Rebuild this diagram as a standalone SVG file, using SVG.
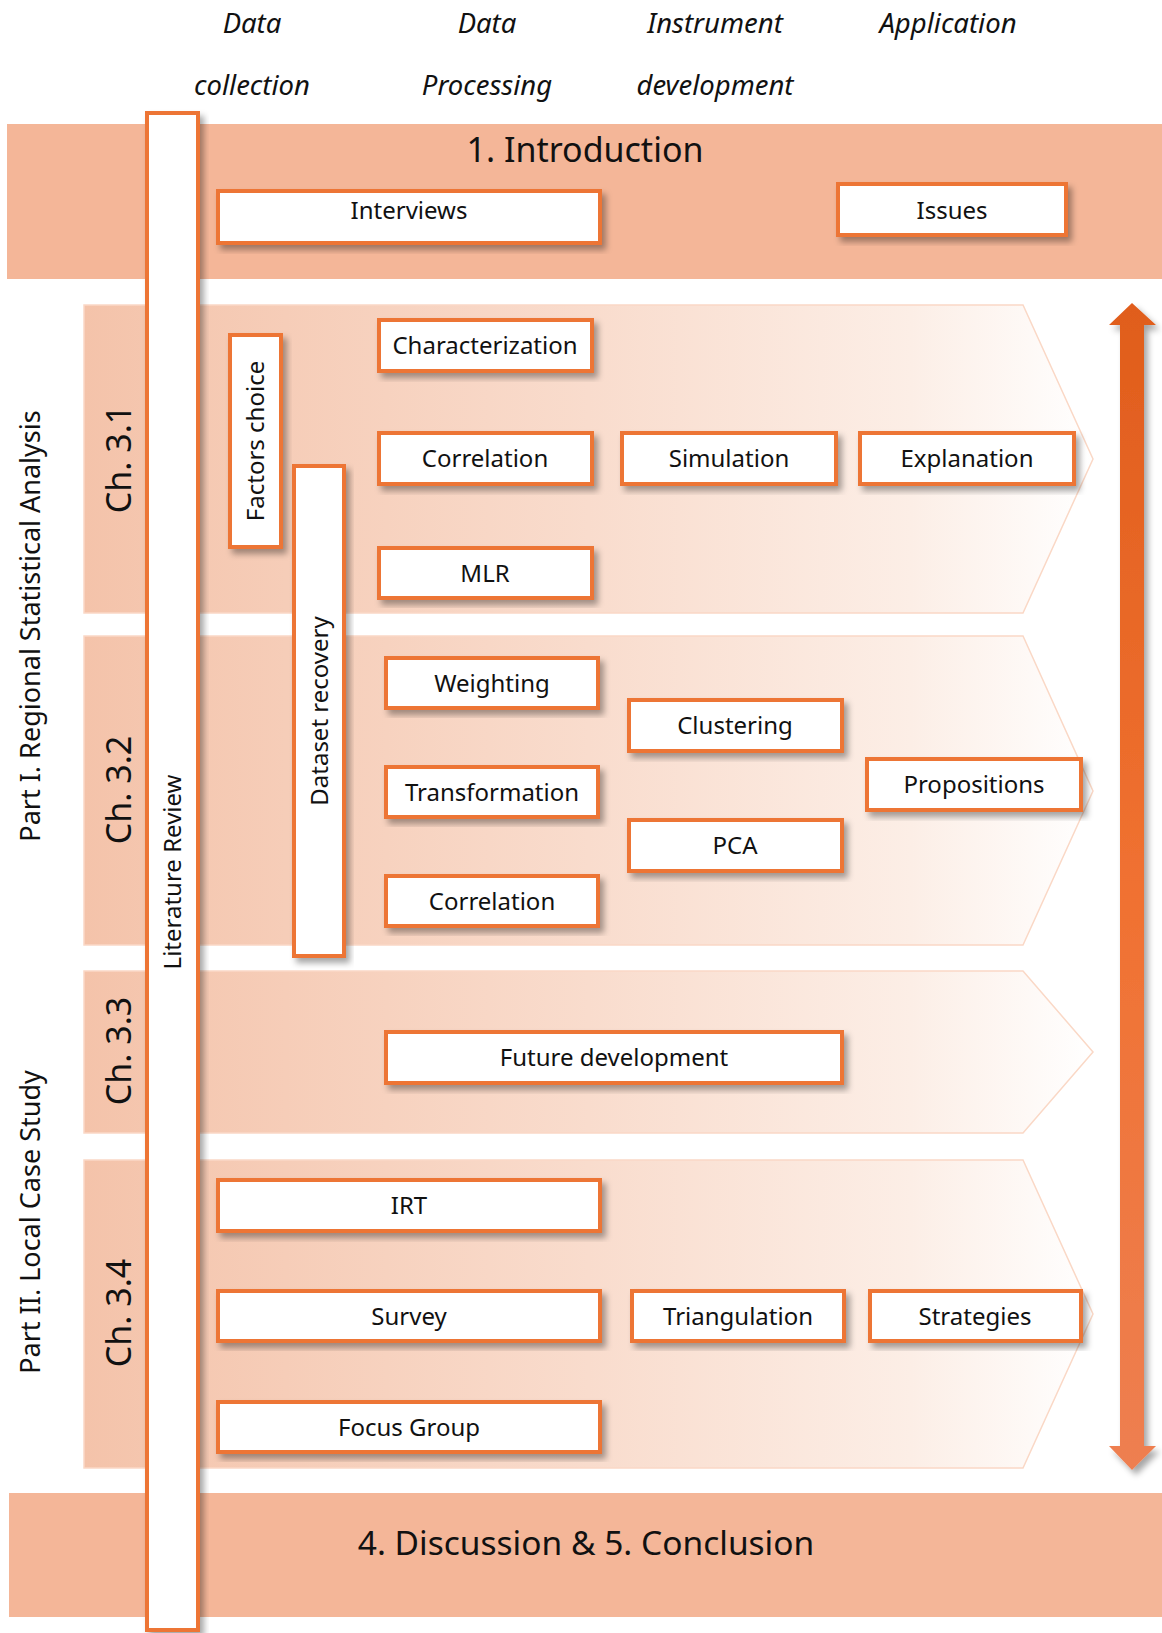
<svg xmlns="http://www.w3.org/2000/svg" width="1162" height="1633" viewBox="0 0 1162 1633">
  <defs>
    <linearGradient id="chevFill" gradientUnits="userSpaceOnUse" x1="84" y1="0" x2="1093" y2="0">
      <stop offset="0" stop-color="#F4C3AA"/>
      <stop offset="0.5" stop-color="#F9DCCD"/>
      <stop offset="0.82" stop-color="#FCEEE6"/>
      <stop offset="1" stop-color="#FFFFFF"/>
    </linearGradient>
    <linearGradient id="arrowFill" gradientUnits="userSpaceOnUse" x1="0" y1="303" x2="0" y2="1470">
      <stop offset="0" stop-color="#E05D1C"/>
      <stop offset="0.5" stop-color="#F07131"/>
      <stop offset="1" stop-color="#EE7F51"/>
    </linearGradient>
    <filter id="shadow" x="-20%" y="-20%" width="140%" height="140%">
      <feDropShadow dx="4" dy="5" stdDeviation="3" flood-color="#000" flood-opacity="0.35"/>
    </filter>
  </defs>
  <style>
    text { font-family: "Noto Sans", "Open Sans", sans-serif; fill: #111; }
    .band { fill: #F4B698; }
    .chev { fill: url(#chevFill); stroke: #FAD8C6; stroke-width: 1.5; }
    .box { fill: #FFFFFF; stroke: #ED7536; stroke-width: 4; filter: url(#shadow); }
    .lbl { font-size: 24px; text-anchor: middle; }
    .head { font-size: 27.5px; font-style: italic; text-anchor: middle; }
    .title { font-size: 34px; text-anchor: middle; }
    .chap { font-size: 34px; text-anchor: middle; }
    .part { font-size: 27px; text-anchor: middle; }
  </style>

  <!-- column headings -->
  <g id="headings">
    <text class="head" x="252" y="33">Data</text>
    <text class="head" x="252" y="95">collection</text>
    <text class="head" x="487" y="33">Data</text>
    <text class="head" x="487" y="95">Processing</text>
    <text class="head" x="715" y="33">Instrument</text>
    <text class="head" x="715" y="95">development</text>
    <text class="head" x="948" y="33">Application</text>
  </g>

  <!-- horizontal bands -->
  <g id="introduction">
    <rect class="band" x="7" y="124" width="1155" height="155"/>
    <text class="title" x="585" y="162">1. Introduction</text>
  </g>
  <g id="ch31-band"><path class="chev" d="M84,305 H1023 L1093,459 L1023,613 H84 Z"/></g>
  <g id="ch32-band"><path class="chev" d="M84,636 H1023 L1093,791 L1023,945 H84 Z"/></g>
  <g id="ch33-band"><path class="chev" d="M84,971 H1023 L1093,1052 L1023,1133 H84 Z"/></g>
  <g id="ch34-band"><path class="chev" d="M84,1160 H1023 L1093,1314 L1023,1468 H84 Z"/></g>
  <g id="conclusion">
    <rect class="band" x="9" y="1493" width="1153" height="124"/>
    <text class="title" x="586" y="1555" style="font-size:33.5px">4. Discussion &amp; 5. Conclusion</text>
  </g>

  <!-- part and chapter labels -->
  <g id="part-labels">
    <text class="part" transform="translate(40,626) rotate(-90)">Part I. Regional Statistical Analysis</text>
    <text class="part" transform="translate(40,1222) rotate(-90)">Part II. Local Case Study</text>
  </g>
  <g id="chapter-labels">
    <text class="chap" transform="translate(131,459) rotate(-90)">Ch. 3.1</text>
    <text class="chap" transform="translate(131,790) rotate(-90)">Ch. 3.2</text>
    <text class="chap" transform="translate(131,1051) rotate(-90)">Ch. 3.3</text>
    <text class="chap" transform="translate(131,1313) rotate(-90)">Ch. 3.4</text>
  </g>

  <!-- vertical bars -->
  <g id="literature-review">
    <rect class="box" x="147" y="113" width="51" height="1517"/>
    <text class="lbl" transform="translate(181,872) rotate(-90)">Literature Review</text>
  </g>
  <g id="factors-choice">
    <rect class="box" x="230" y="335" width="51" height="212"/>
    <text class="lbl" transform="translate(264,441) rotate(-90)">Factors choice</text>
  </g>
  <g id="dataset-recovery">
    <rect class="box" x="294" y="466" width="50" height="490"/>
    <text class="lbl" transform="translate(328,711) rotate(-90)">Dataset recovery</text>
  </g>

  <!-- method boxes -->
  <g id="interviews"><rect class="box" x="218" y="191" width="382" height="52"/><text class="lbl" x="409" y="219">Interviews</text></g>
  <g id="issues"><rect class="box" x="838" y="184" width="228" height="51"/><text class="lbl" x="952" y="219">Issues</text></g>

  <g id="characterization"><rect class="box" x="379" y="320" width="213" height="51"/><text class="lbl" x="485" y="354">Characterization</text></g>
  <g id="correlation-31"><rect class="box" x="379" y="433" width="213" height="51"/><text class="lbl" x="485" y="467">Correlation</text></g>
  <g id="mlr"><rect class="box" x="379" y="548" width="213" height="50"/><text class="lbl" x="485" y="582">MLR</text></g>
  <g id="simulation"><rect class="box" x="622" y="433" width="214" height="51"/><text class="lbl" x="729" y="467">Simulation</text></g>
  <g id="explanation"><rect class="box" x="860" y="433" width="214" height="51"/><text class="lbl" x="967" y="467">Explanation</text></g>

  <g id="weighting"><rect class="box" x="386" y="658" width="212" height="50"/><text class="lbl" x="492" y="692">Weighting</text></g>
  <g id="transformation"><rect class="box" x="386" y="767" width="212" height="50"/><text class="lbl" x="492" y="801">Transformation</text></g>
  <g id="correlation-32"><rect class="box" x="386" y="876" width="212" height="50"/><text class="lbl" x="492" y="910">Correlation</text></g>
  <g id="clustering"><rect class="box" x="629" y="700" width="213" height="51"/><text class="lbl" x="735" y="734">Clustering</text></g>
  <g id="pca"><rect class="box" x="629" y="820" width="213" height="51"/><text class="lbl" x="735" y="854">PCA</text></g>
  <g id="propositions"><rect class="box" x="867" y="759" width="214" height="51"/><text class="lbl" x="974" y="793">Propositions</text></g>

  <g id="future-development"><rect class="box" x="386" y="1032" width="456" height="51"/><text class="lbl" x="614" y="1066">Future development</text></g>

  <g id="irt"><rect class="box" x="218" y="1180" width="382" height="51"/><text class="lbl" x="409" y="1214">IRT</text></g>
  <g id="survey"><rect class="box" x="218" y="1291" width="382" height="50"/><text class="lbl" x="409" y="1325">Survey</text></g>
  <g id="triangulation"><rect class="box" x="632" y="1291" width="212" height="50"/><text class="lbl" x="738" y="1325">Triangulation</text></g>
  <g id="strategies"><rect class="box" x="870" y="1291" width="211" height="50"/><text class="lbl" x="975" y="1325">Strategies</text></g>
  <g id="focus-group"><rect class="box" x="218" y="1402" width="382" height="50"/><text class="lbl" x="409" y="1436">Focus Group</text></g>

  <!-- two-headed progression arrow -->
  <g id="connectors">
    <path d="M1132,303 L1156,325 H1144 V1446 H1156 L1132,1470 L1109,1446 H1120 V325 H1109 Z" fill="url(#arrowFill)" filter="url(#shadow)"/>
  </g>
</svg>
